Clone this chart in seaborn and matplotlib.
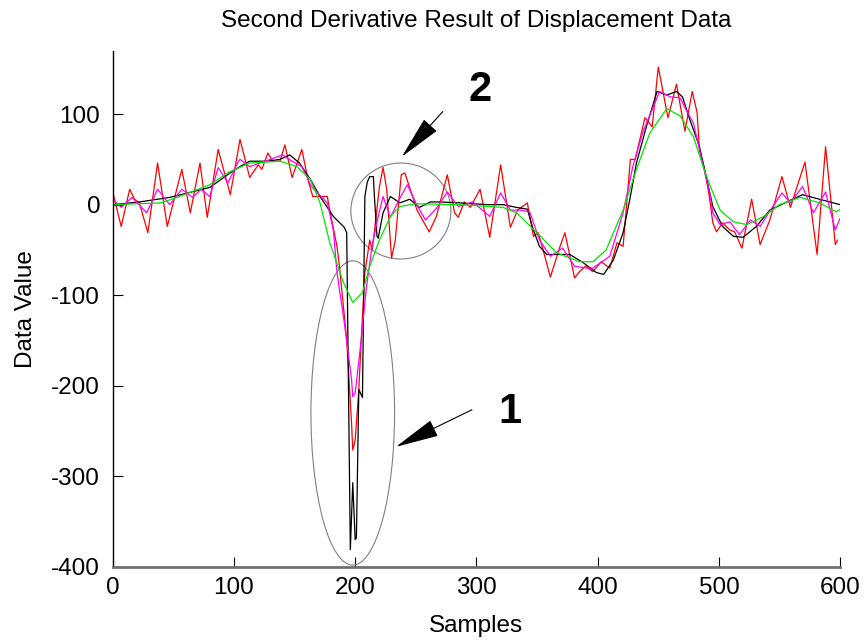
import numpy as np
import pandas as pd
import matplotlib
matplotlib.use("Agg")
import matplotlib.pyplot as plt
import seaborn as sns
from matplotlib.patches import Ellipse

# => Data
red_x = [0, 7, 14, 18, 22, 29, 37, 45, 57, 64, 72, 78, 87, 97, 105, 113, 120, 123, 128, 132,
         138, 142, 148, 156, 161, 165, 177, 179, 185, 187, 193, 197, 198, 200, 203, 205, 208, 212, 214, 216,
         220, 223, 226, 230, 233, 238, 241, 251, 261, 267, 276, 282, 285, 290, 295, 303, 311, 320, 328, 334,
         342, 347, 351, 355, 361, 369, 373, 381, 385, 390, 396, 403, 410, 416, 421, 427, 431, 439, 445, 450,
         454, 458, 465, 472, 478, 482, 484, 488, 492, 495, 498, 503, 509, 513, 519, 527, 534, 542, 552, 559,
         571, 581, 588, 596, 598]
red_y = [14, -24, 17, 6, 2, -31, 46, -24, 39, -9, 46, -14, 61, 11, 72, 30, 44, 39, 57, 48,
         48, 66, 30, 61, 28, 9, 9, -6, -46, -68, -149, -241, -271, -260, -204, -149, -75, -39, -50, -28,
         20, 41, 17, -59, -40, 33, 35, -6, -30, -13, 33, -9, -14, 3, -3, 17, -36, 44, -25, -6,
         2, -35, -31, -50, -80, -46, -31, -81, -74, -68, -74, -63, -70, -42, -46, 50, 50, 96, 86, 152,
         124, 96, 133, 81, 125, 102, 60, 40, 10, -20, -30, -20, -28, -30, -48, 6, -44, -17, 31, -3,
         47, -55, 64, -44, -39]

magenta_x = [0, 7, 16, 28, 37, 47, 57, 66, 73, 80, 87, 95, 103, 105, 113, 130, 140, 148, 156, 164,
             177, 182, 185, 191, 197, 198, 200, 205, 209, 214, 219, 223, 229, 236, 243, 250, 258, 267, 276, 285,
             297, 311, 320, 328, 336, 344, 352, 361, 371, 381, 391, 396, 410, 421, 429, 437, 445, 451, 460, 468,
             474, 479, 484, 493, 495, 501, 509, 517, 526, 534, 544, 552, 559, 569, 578, 588, 596, 600]
magenta_y = [6, -3, 8, -9, 17, 0, 17, 8, 17, 9, 41, 24, 46, 50, 42, 50, 55, 48, 42, 20,
             2, -28, -75, -130, -193, -212, -208, -149, -94, -45, -13, 9, -14, 5, 22, 2, -17, -4, 14, -2,
             3, -13, 13, -6, -6, -8, -39, -57, -48, -68, -70, -70, -57, -9, 42, 79, 105, 125, 119, 118,
             102, 90, 61, 9, -9, -22, -19, -33, -17, -24, -3, 13, 2, 20, -9, 14, -28, -15]

black_x = [0, 22, 47, 80, 99, 105, 113, 127, 138, 146, 154, 163, 171, 182, 191, 193, 196, 198, 200, 201,
           203, 206, 208, 210, 212, 215, 216, 218, 219, 223, 229, 237, 245, 253, 262, 270, 286, 309, 322, 333,
           342, 347, 352, 358, 377, 388, 399, 405, 413, 421, 427, 432, 441, 449, 457, 465, 470, 476, 484, 490,
           495, 503, 512, 520, 531, 542, 556, 569, 583, 600]
black_y = [0, 3, 8, 19, 37, 42, 48, 48, 50, 55, 46, 28, 9, -13, -25, -31, -381, -307, -370, -368,
           -204, -213, 9, 25, 31, 31, 6, -35, -37, -9, 9, 2, 6, -3, 3, 3, 2, 0, 0, -3,
           -5, -28, -46, -55, -55, -64, -75, -77, -61, -31, 9, 46, 90, 125, 121, 125, 119, 94, 64, 28,
           -2, -24, -35, -36, -24, -6, 3, 11, 6, 0]

green_x = [0, 40, 53, 80, 96, 113, 138, 152, 163, 171, 179, 182, 190, 198, 206, 212, 220, 229, 237, 250,
           286, 322, 333, 350, 366, 377, 385, 396, 407, 421, 432, 443, 457, 468, 479, 487, 493, 501, 512, 523,
           537, 550, 567, 583, 597, 600]
green_y = [0, 2, 8, 22, 36, 46, 48, 42, 28, 2, -42, -53, -85, -108, -97, -68, -39, -13, -2, 1,
           0, -3, -9, -31, -53, -59, -63, -63, -50, -6, 39, 79, 106, 98, 75, 42, 20, -6, -19, -22,
           -13, 0, 8, 2, -8, -5]

x_ticks = [0, 100, 200, 300, 400, 500, 600]
y_ticks = [-400, -300, -200, -100, 0, 100]

series = [
    (red_x, red_y, "#ff0000"),
    (black_x, black_y, "#000000"),
    (magenta_x, magenta_y, "#ff00ff"),
    (green_x, green_y, "#00e600"),
]

# => Plot
sns.set_style("ticks")
plt.rcParams["font.family"] = ["Liberation Sans", "DejaVu Sans"]
plt.rcParams["axes.unicode_minus"] = False
plt.rcParams["text.color"] = "black"
plt.rcParams["axes.labelcolor"] = "black"
plt.rcParams["xtick.color"] = "black"
plt.rcParams["ytick.color"] = "black"
plt.rcParams["lines.solid_joinstyle"] = "round"

fig = plt.figure(figsize=(8.67, 6.42), dpi=100)
ax = fig.add_axes([0.130, 0.117, 0.839, 0.804])

for xs, ys, col in series:
    df = pd.DataFrame({"Samples": xs, "Data Value": ys})
    sns.lineplot(data=df, x="Samples", y="Data Value", color=col, linewidth=0.9,
                 estimator=None, sort=False, ax=ax)

ax.set_xlim(0, 600)
ax.set_ylim(-400, 170)
ax.set_xticks(x_ticks)
ax.set_yticks(y_ticks)
ax.tick_params(direction="in", length=7, width=0.8, labelsize=17.5)
ax.tick_params(axis="x", pad=7)
ax.tick_params(axis="y", pad=9)
ax.spines["top"].set_visible(False)
ax.spines["right"].set_visible(False)
ax.spines["left"].set_color("black")
ax.spines["left"].set_linewidth(1.0)
ax.spines["bottom"].set_color("#707070")
ax.spines["bottom"].set_linewidth(2.0)

ax.set_title("Second Derivative Result of Displacement Data", fontsize=17.5, pad=17)
ax.set_xlabel("Samples", fontsize=17.5, labelpad=12)
ax.set_ylabel("Data Value", fontsize=17.5, labelpad=10)

# circled regions
ax.add_patch(Ellipse((198, -230), 69, 336, fill=False, edgecolor="#808080", linewidth=0.8))
ax.add_patch(Ellipse((237.7, -7), 82.5, 106, fill=False, edgecolor="#808080", linewidth=0.8))

# arrows and labels
arrow_style = dict(arrowstyle="-|>,head_length=1.4,head_width=0.28", color="black",
                   linewidth=0.8, mutation_scale=20, shrinkA=0, shrinkB=0)
ax.annotate("", xy=(238.5, 53), xytext=(272.3, 102.8), arrowprops=arrow_style)
ax.annotate("", xy=(233.6, -267.4), xytext=(296.3, -226.5), arrowprops=arrow_style)
ax.text(302.9, 127, "2", fontsize=30, fontweight="bold", ha="center", va="center")
ax.text(327.6, -228.7, "1", fontsize=30, fontweight="bold", ha="center", va="center")

plt.savefig("out.png", dpi=100)
